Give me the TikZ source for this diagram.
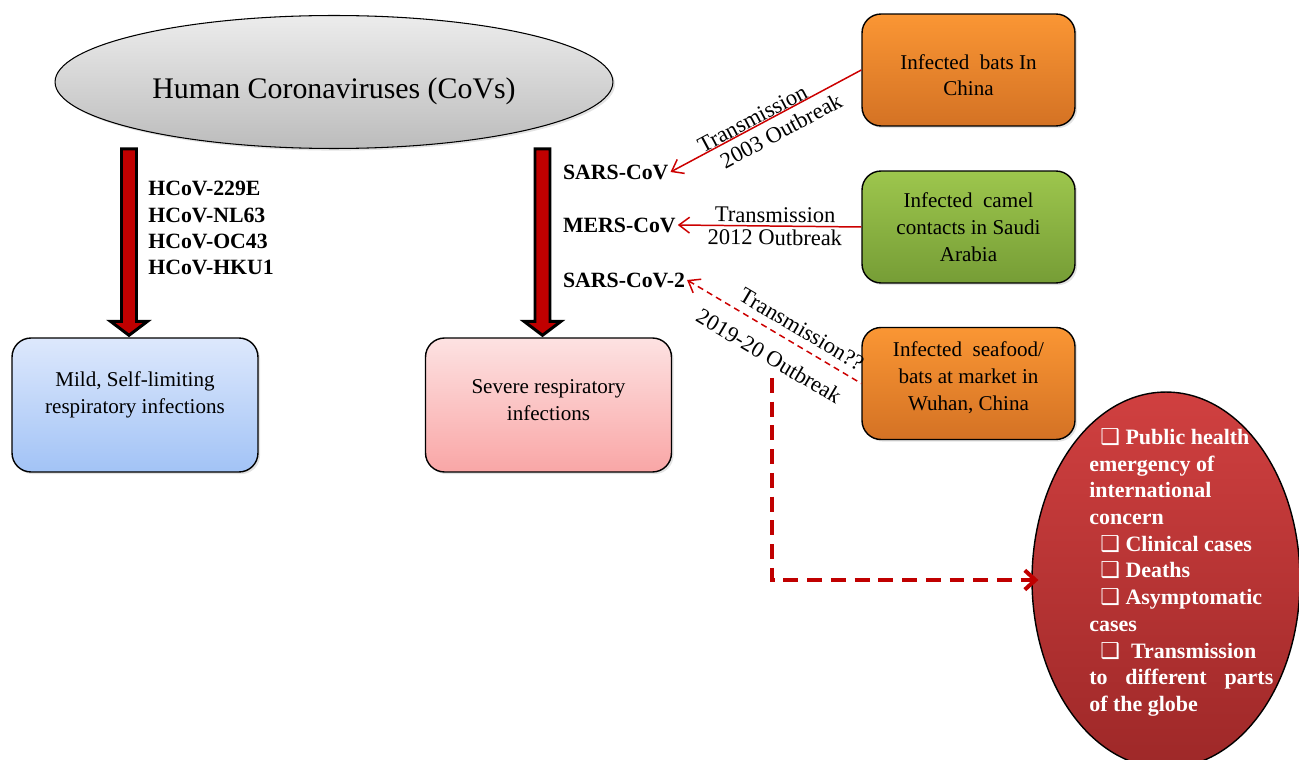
\documentclass[tikz,border=0pt]{standalone}
\usepackage{fontspec}
\setmainfont{Liberation Serif}
\newfontfamily\chkfont{DejaVu Sans}
\usetikzlibrary{shapes.geometric,arrows.meta,shadows}

\definecolor{covtop}{RGB}{236,236,236}
\definecolor{covbot}{RGB}{188,188,188}
\definecolor{mildtop}{RGB}{221,232,252}
\definecolor{mildbot}{RGB}{162,195,246}
\definecolor{severetop}{RGB}{253,226,226}
\definecolor{severebot}{RGB}{249,166,166}
\definecolor{orangetop}{RGB}{250,150,52}
\definecolor{orangebot}{RGB}{212,114,36}
\definecolor{greentop}{RGB}{157,198,77}
\definecolor{greenbot}{RGB}{118,157,54}
\definecolor{warntop}{RGB}{208,64,64}
\definecolor{warnbot}{RGB}{158,40,40}
\definecolor{arrowred}{RGB}{192,0,0}
\definecolor{linered}{RGB}{204,0,0}

\newcommand{\chk}{\hspace*{0.5em}{\chkfont ❑}\ }

\tikzset{
  softshadow/.style={drop shadow={opacity=0.22,shadow xshift=1.2pt,shadow yshift=-1.2pt}},
  covs/.style={ellipse, draw, line width=0.6pt, top color=covtop, bottom color=covbot,
    minimum width=11.16cm, minimum height=2.66cm, font=\fontsize{17}{20}\selectfont, softshadow},
  box/.style={draw, line width=0.8pt, rounded corners=0.38cm, align=center,
    font=\fontsize{12}{15.2}\selectfont, softshadow},
  hostbox/.style={box, minimum width=4.26cm, minimum height=2.24cm},
  outcomebox/.style={box, minimum width=4.92cm, minimum height=2.68cm},
  strain/.style={font=\bfseries\fontsize{12.4}{15}\selectfont, inner sep=1pt},
  blockarrow/.style={draw=black, fill=arrowred, line width=1.7pt, line join=miter},
  tarrow/.style={draw=linered, line width=0.85pt, {Straight Barb[length=6pt,width=9pt]}-},
  tlabel/.style={font=\fontsize{12.8}{14}\selectfont, sloped, inner sep=1.5pt},
  outbreakline/.style={draw=arrowred, line width=2.3pt, dash pattern=on 8.5pt off 5pt,
    -{Straight Barb[length=6pt,width=11pt]}, shorten >=-4pt},
  warn/.style={ellipse, draw, line width=0.8pt, top color=warntop, bottom color=warnbot,
    minimum width=5.36cm, minimum height=7.52cm},
  warntext/.style={anchor=north west, align=left, inner sep=0pt, text=white,
    font=\bfseries\fontsize{12.5}{15.2}\selectfont}
}

\begin{document}
\begin{tikzpicture}[x=0.02cm, y=-0.02cm]
    \useasboundingbox (0,0) rectangle (1299,760);

    % Coronaviren
    \node[covs, text height=22pt] (covs) at (334,82) {Human Coronaviruses (CoVs)};

    % Outcome boxes
    \node[outcomebox, top color=mildtop, bottom color=mildbot, text depth=14pt] (mild) at (135,405)
        {Mild, Self-limiting\\respiratory infections};
    \node[outcomebox, top color=severetop, bottom color=severebot, text depth=5.7pt] (severe) at (548.5,405)
        {Severe respiratory\\infections};

    % Block arrows
    \foreach \b in {mild,severe}
        \draw[blockarrow, shift={(\b.north)}] (-13.5,-188.5) -- (1.5,-188.5) -- (1.5,-16) -- (12.5,-16)
            -- (-6,-2) -- (-24.5,-16) -- (-13.5,-16) -- cycle;

    % Strains
    \node[strain, align=left, anchor=north west, inner sep=0pt] (hcov) at (148,181)
        {HCoV-229E\\HCoV-NL63\\HCoV-OC43\\HCoV-HKU1};
    \node[strain, anchor=west] (sars) at (561,172) {SARS-CoV};
    \node[strain, anchor=west] (mers) at (561,225) {MERS-CoV};
    \node[strain, anchor=west] (sars2) at (561,280) {SARS-CoV-2};

    % Host boxes
    \node[hostbox, top color=orangetop, bottom color=orangebot, text height=29.5pt] (bats) at (968.5,70)
        {Infected\ \ bats In\\China};
    \node[hostbox, top color=greentop, bottom color=greenbot] (camel) at (968.5,227)
        {Infected\ \ camel\\contacts in Saudi\\Arabia};
    \node[hostbox, top color=orangetop, bottom color=orangebot, text depth=8.6pt] (seafood) at (968.5,383.5)
        {Infected\ \ seafood/\\bats at market in\\Wuhan, China};

    % Transmission
    \draw[tarrow] (sars.east) -- node[tlabel, above, pos=0.45, inner sep=0pt] {Transmission}
        node[tlabel, below=2.5pt, pos=0.54] {2003 Outbreak} (bats.west);
    \draw[tarrow] (mers.east) -- node[tlabel, above, pos=0.53] {Transmission}
        node[tlabel, below, pos=0.53] {2012 Outbreak} (camel.west);
    \draw[tarrow, dash pattern=on 3.5pt off 2.5pt] (sars2.east) -- node[tlabel, above=3pt, pos=0.61] {Transmission??}
        node[tlabel, below=7pt, pos=0.54] {2019-20 Outbreak} (seafood.west);

    % Outcome of the outbreak
    \node[warn] (warn) at (1166,580) {};
    \node[warntext] (warnlist) at (1089,428)
        {\chk Public health\\
         emergency of\\
         international\\
         concern\\
         \chk Clinical cases\\
         \chk Deaths\\
         \chk Asymptomatic\\
         cases\\
         \chk\ Transmission\\
         \makebox[3.68cm][s]{to different parts}\\
         of the globe};
    \coordinate (dropstart) at (772,378);
    \draw[outbreakline] (dropstart) |- (warn.west);
\end{tikzpicture}
\end{document}
